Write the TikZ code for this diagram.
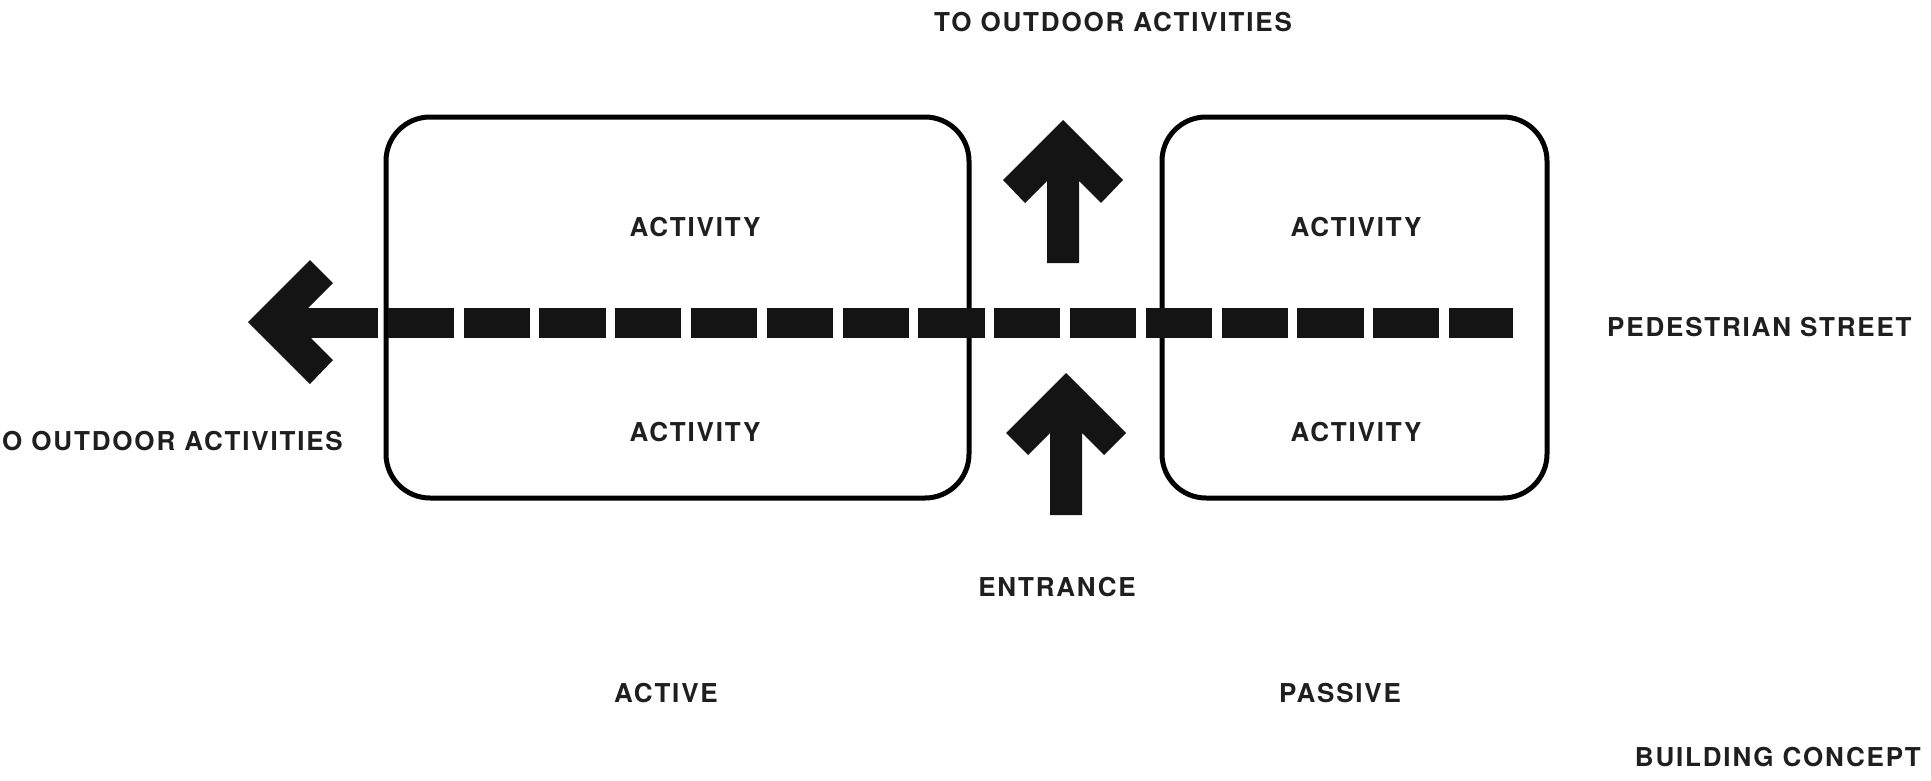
\documentclass[tikz,border=0pt]{standalone}
\usepackage{fontspec}
\setmainfont{TeX Gyre Heros}[LetterSpace=7]
\begin{document}
\begin{tikzpicture}[x=1pt,y=-1pt,
  lbl/.style={font=\fontsize{26}{31}\selectfont\bfseries, inner sep=0pt, text=black!88},
  zonebox/.style={draw=black, line width=5pt, rounded corners=44pt, inner sep=0pt},
  street/.style={line width=30pt, draw=black!92, dash pattern=on 66.2pt off 9.6pt},
  bigarrow/.style={fill=black!92}]
\useasboundingbox (0,0) rectangle (1931,780);

% zones
\node[zonebox, minimum width=583pt, minimum height=381pt] (activebox) at (677.5,307.5) {};
\node[zonebox, minimum width=385pt, minimum height=381pt] (passivebox) at (1354.5,307.5) {};

% pedestrian street (dashed) with arrowhead at left
\coordinate (streetW) at (312,323);
\coordinate (streetE) at (1513,323);
\draw[street] (streetW) -- (streetE);
\fill[bigarrow] (248,322) -- (310,260) -- (333,283) -- (308,308) -- (312.5,308) -- (312.5,338)
  -- (311,338) -- (333,360) -- (310,384) -- cycle;

% upward arrow to outdoor activities
\fill[bigarrow] (1063,120) -- (1123,180) -- (1101,203) -- (1079,181) -- (1079,263)
  -- (1047,263) -- (1047,181) -- (1025,203) -- (1003,180) -- cycle;

% entrance arrow
\fill[bigarrow] (1066,373) -- (1126,433) -- (1104,455) -- (1082,433) -- (1082,515)
  -- (1050,515) -- (1050,433) -- (1028,455) -- (1006,433) -- cycle;

% labels
\node[lbl] (topout) at (1113,22) {TO OUTDOOR ACTIVITIES};
\node[lbl, anchor=west] (leftout) at (2,441) {O OUTDOOR ACTIVITIES};
\node[lbl] (act1) at (695,227) {ACTIVITY};
\node[lbl] (act2) at (695,432) {ACTIVITY};
\node[lbl] (act3) at (1356,227) {ACTIVITY};
\node[lbl] (act4) at (1356,432) {ACTIVITY};
\node[lbl, anchor=west] (ped) at (1607,327) {PEDESTRIAN STREET};
\node[lbl] (entr) at (1057,587) {ENTRANCE};
\node[lbl] (activelbl) at (666,693) {ACTIVE};
\node[lbl] (passivelbl) at (1340,693) {PASSIVE};
\node[lbl, anchor=east] (concept) at (1921,757) {BUILDING CONCEPT};
\end{tikzpicture}
\end{document}
